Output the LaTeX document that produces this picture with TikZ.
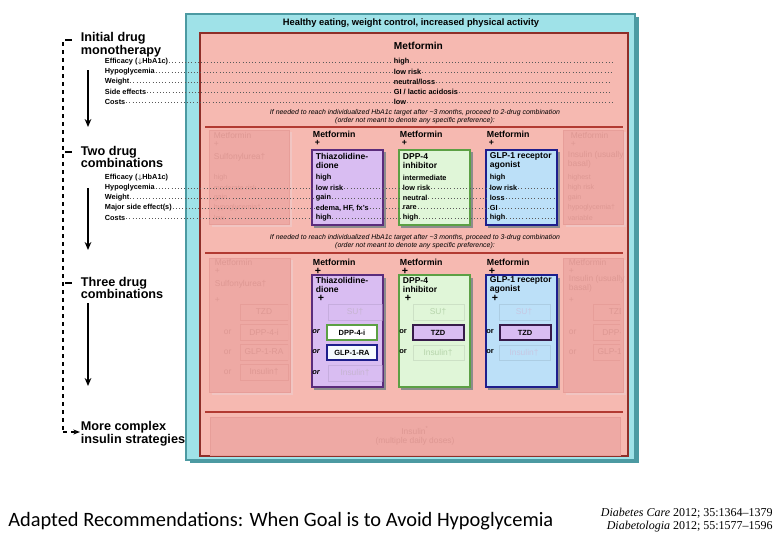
\documentclass[tikz,border=0pt]{standalone}
\usepackage{fontspec}
\setmainfont{Liberation Sans}
\newfontfamily\capfont{Carlito}
\newfontfamily\citefont{Liberation Serif}
\usetikzlibrary{arrows.meta}
\definecolor{teal1}{HTML}{9FE2E8}\definecolor{teal2}{HTML}{4C9AA2}
\definecolor{salm}{HTML}{F6B9B1}\definecolor{salmb}{HTML}{B23A32}
\definecolor{fadef}{HTML}{EEA9A4}\definecolor{fadeb}{HTML}{E79E99}\definecolor{fadet}{HTML}{DE9893}
\definecolor{purf}{HTML}{D9BDF2}\definecolor{purb}{HTML}{5B2C7C}
\definecolor{grnf}{HTML}{E0F6D8}\definecolor{grnb}{HTML}{5CA044}
\definecolor{bluf}{HTML}{BCE0F8}\definecolor{blub}{HTML}{1E1E8C}
\begin{document}
\begin{tikzpicture}[x=0.75pt,y=-0.75pt,
  lbl/.style={anchor=west,font=\fontsize{5.5}{6}\selectfont\bfseries,inner sep=0.5pt},
  val/.style={anchor=west,font=\fontsize{5.5}{6}\selectfont\bfseries,inner sep=0.5pt},
  fval/.style={anchor=west,font=\fontsize{5.3}{6}\selectfont,text=fadet,inner sep=0.5pt},
  hdr/.style={anchor=west,font=\fontsize{6.6}{7}\selectfont\bfseries,inner sep=0.5pt},
  fhdr/.style={anchor=west,font=\fontsize{6.3}{7}\selectfont,text=fadet,inner sep=0.5pt},
  big/.style={anchor=west,font=\fontsize{9.5}{9.5}\selectfont\bfseries,align=left,inner sep=0.5pt},
  ital/.style={font=\fontsize{5.2}{6}\selectfont\itshape,align=center,inner sep=0.5pt},
  leader/.style={dotted,line width=0.4pt,gray!70!black},
  arr/.style={-{Stealth[length=6pt,width=5pt]},line width=1.4pt},
  fbox/.style={fill=fadef,draw=fadeb,line width=0.6pt},
  small/.style={font=\fontsize{5.6}{6}\selectfont\bfseries,inner sep=0}]
\useasboundingbox (0,0) rectangle (780,540);
\fill[white] (0,0) rectangle (780,540);
% outer boxes
\fill[teal2] (190,17) rectangle (639,463);
\draw[teal2,fill=teal1,line width=0.8pt] (186,14) rectangle (635,460);
\draw[salmb!80!black,fill=salm,line width=0.8pt] (200,33) rectangle (628,456);
\node[font=\fontsize{7}{8}\selectfont\bfseries] (head) at (411,23) {Healthy eating, weight control, increased physical activity};
% metformin monotherapy
\node[hdr,font=\fontsize{7.6}{8}\selectfont\bfseries] (met) at (393,46) {Metformin};
\foreach \y/\t/\n in {62/high/a,72/low risk/b,82/{neutral/loss}/c,92/{GI / lactic acidosis}/d,102/low/e}{
  \node[val] (m\n) at (393,\y) {\t};
  \draw[leader] (m\n.east) -- (612,\y);}
\node[ital] (it1) at (415,117) {If needed to reach individualized HbA1c target after \textasciitilde3 months, proceed to 2-drug combination\\(order not meant to denote any specific preference):};
\draw[salmb,line width=1pt] (205,127) -- (623,127);
% two-drug faded left
\fill[fadeb!60] (212,132) rectangle (292,227);
\draw[fbox] (209,130) rectangle (289,224);
\node[fhdr] (f1a) at (213,135) {Metformin};
\node[fhdr] (f1b) at (213,144) {+};
\node[fhdr] (f1c) at (213,157) {Sulfonylurea\textdagger};
\foreach \y/\t/\n in {178/high/a,188/moderate risk/b,198/gain/c,208/hypoglycemia\textdagger/d,218/low/e}
  \node[fval] (f1\n v) at (213,\y) {\t};
% two-drug faded right
\fill[fadeb!60] (566,132) rectangle (626,227);
\draw[fbox] (563,130) rectangle (623,224);
\node[fhdr] (f2a) at (570,135) {Metformin};
\node[fhdr] (f2b) at (570,144) {+};
\node[fhdr,align=left] (f2c) at (567,160) {Insulin (usually\\basal)};
\foreach \y/\t/\n in {178/highest/a,188/high risk/b,198/gain/c,208/hypoglycemia\textdagger/d,218/variable/e}
  \node[fval] (f2\n v) at (567,\y) {\t};
% two-drug coloured columns
\foreach \x/\f/\b/\nm/\ti/\va/\vb/\vc/\vd/\ve in {
 312/purf/purb/tzd/{Thiazolidine-\\dione}/high/low risk/gain/{edema, HF, fx's}/high,
 399/grnf/grnb/dpp/{DPP-4\\inhibitor}/intermediate/low risk/neutral/rare/high,
 486/bluf/blub/glp/{GLP-1 receptor\\agonist}/high/low risk/loss/GI/high}{
  \node[hdr] (\nm h) at (\x,134) {Metformin};
  \node[hdr] (\nm p) at (\x+2,143) {+};
  \fill[black!45] (\x+2,152) rectangle (\x+74,228);
  \draw[\b,fill=\f,line width=1.3pt] (\x,150) rectangle (\x+71,225);
  \node[hdr,align=left,font=\fontsize{6.4}{6.8}\selectfont\bfseries] (\nm t) at (\x+3,161) {\ti};
  \node[val] (\nm 1) at (\x+3,178) {\va};
  \node[val] (\nm 2) at (\x+3,188) {\vb};
  \node[val] (\nm 3) at (\x+3,198) {\vc};
  \node[val] (\nm 4) at (\x+3,208) {\vd};
  \node[val] (\nm 5) at (\x+3,218) {\ve};
}
\foreach \i in {2,3,4,5}{
  \draw[leader] (tzd\i.east) -- (dpp\i.west);
  \draw[leader] (dpp\i.east) -- (glp\i.west);
  \draw[leader] (glp\i.east) -- (555,|-glp\i);}
\node[ital] (it2) at (415,242) {If needed to reach individualized HbA1c target after \textasciitilde3 months, proceed to 3-drug combination\\(order not meant to denote any specific preference):};
\draw[salmb,line width=1pt] (205,253) -- (623,253);
% three-drug faded left/right
\foreach \x/\w/\nm/\ti/\bo/\bw/\oo in {209/81/fl/{Sulfonylurea\textdagger}/31/48/14,563/60/fr/{Insulin (usually\\basal)}/30/27/5}{
  \fill[fadeb!60] (\x+3,260) rectangle (\x+\w+3,395);
  \draw[fbox] (\x,258) rectangle (\x+\w,392);
  \node[fhdr] (\nm a) at (\x+5,262) {Metformin};
  \node[fhdr] (\nm b) at (\x+5,271) {+};
  \node[fhdr,align=left] (\nm c) at (\x+5,284) {\ti};
  \node[fhdr] (\nm d) at (\x+5,300) {+};
  \foreach \y/\t/\k in {312/TZD/1,332/DPP-4-i/2,352/GLP-1-RA/3}{
    \begin{scope}
    \clip (\x+\bo,\y-8) rectangle (\x+\bo+\bw,\y+8);
    \draw[fbox] (\x+\bo,\y-8) rectangle (\x+\bo+\bw,\y+8);
    \node[fhdr,anchor=center] (\nm\k) at (\x+\bo+24,\y) {\t};
    \end{scope}}
  \foreach \y in {332,352} \node[fhdr] at (\x+\oo,\y) {or};
}
\draw[fbox] (240,364) rectangle (288,380);
\node[fhdr,anchor=center] (fl4) at (264,372) {Insulin\textdagger};
\node[fhdr] (flo) at (223,372) {or};
% three-drug coloured columns
\foreach \x/\f/\b/\nm/\ti in {312/purf/purb/A/{Thiazolidine-\\dione},399/grnf/grnb/B/{DPP-4\\inhibitor},486/bluf/blub/C/{GLP-1 receptor\\agonist}}{
  \node[hdr] (\nm h) at (\x,262) {Metformin};
  \node[hdr,font=\fontsize{8}{8}\selectfont\bfseries] (\nm p) at (\x+2,271) {+};
  \fill[black!45] (\x+2,278) rectangle (\x+74,390);
  \draw[\b,fill=\f,line width=1.3pt] (\x,275) rectangle (\x+71,387);
  \node[hdr,align=left,font=\fontsize{6.4}{6.8}\selectfont\bfseries] (\nm t) at (\x+3,285) {\ti};
  \node[hdr,font=\fontsize{8}{8}\selectfont\bfseries] (\nm q) at (\x+5,298) {+};
}
\tikzset{fin/.style={fill=#1,draw=#1!85!black,line width=0.6pt,opacity=0.55}}
% TZD column
\draw[fin=purf] (328,304) rectangle (382,320); \node[fhdr,anchor=center,text=purb!35] (A1) at (355,312) {SU\textdagger};
\draw[grnb,fill=white,line width=1.3pt] (327,325) rectangle (377,340); \node[small] (A2) at (352,332.5) {DPP-4-i};
\draw[blub,fill=white!85!bluf,line width=1.3pt] (327,345) rectangle (377,360); \node[small] (A3) at (352,352.5) {GLP-1-RA};
\draw[fin=purf] (328,365) rectangle (382,381); \node[fhdr,anchor=center,text=purb!35] (A4) at (355,373) {Insulin\textdagger};
\foreach \y in {332,352,373} \node[small,font=\fontsize{5.6}{6}\selectfont\bfseries\itshape] at (316,\y) {or};
% DPP column
\draw[fin=grnf] (413,304) rectangle (464,320); \node[fhdr,anchor=center,text=grnb!45] (B1) at (438,312) {SU\textdagger};
\draw[purb!60!black,fill=purf,line width=1.3pt] (413,325) rectangle (464,340); \node[small] (B2) at (438,332.5) {TZD};
\draw[fin=grnf] (413,345) rectangle (464,360); \node[fhdr,anchor=center,text=grnb!45] (B3) at (438,352.5) {Insulin\textdagger};
\foreach \y in {332,352} \node[small] at (403,\y) {or};
% GLP column
\draw[fin=bluf] (499,304) rectangle (550,320); \node[fhdr,anchor=center,text=blub!25] (C1) at (524,312) {SU\textdagger};
\draw[purb!60!black,fill=purf,line width=1.3pt] (500,325) rectangle (551,340); \node[small] (C2) at (525,332.5) {TZD};
\draw[fin=bluf] (499,345) rectangle (550,360); \node[fhdr,anchor=center,text=blub!25] (C3) at (524,352.5) {Insulin\textdagger};
\foreach \y in {332,352} \node[small] at (490,\y) {or};
% insulin strategies
\draw[salmb,line width=1.2pt] (205,412) -- (623,412);
\draw[fbox] (210,417) rectangle (620,455);
\node[fhdr,anchor=center,align=center] (ins) at (415,436) {Insulin\textsuperscript{*}\\(multiple daily doses)};
% left column
\draw[dashed,line width=1.2pt] (63,42) -- (63,432);
\node[big] (s1) at (80,45) {Initial drug\\monotherapy};
\node[big] (s2) at (80,157) {Two drug\\combinations};
\node[big] (s3) at (80,288) {Three drug\\combinations};
\node[big] (s4) at (80,434) {More complex\\insulin strategies};
\foreach \y in {45,157,288} \draw[line width=1.2pt] (65,\y-5) -- (72,\y-5);
\coordinate (d4) at (63,432);
\draw[dashed,-{Stealth[length=5pt]},line width=1pt] (d4) -- (s4.west|-d4);
\foreach \y/\t/\n in {62/{Efficacy (\(\downarrow\)HbA1c)}/a,72/Hypoglycemia/b,82/Weight/c,92/Side effects/d,102/Costs/e}{
  \node[lbl] (l1\n) at (104,\y) {\t};
  \draw[leader] (l1\n.east) -- (m\n.west);}
\foreach \y/\t/\n in {178/{Efficacy (\(\downarrow\)HbA1c)}/1,188/Hypoglycemia/2,198/Weight/3,208/Major side effect(s)/4,218/Costs/5}{
  \node[lbl] (l2\n) at (104,\y) {\t};
  \ifnum\n>1 \draw[leader] (l2\n.east) -- (tzd\n.west);\fi}
\coordinate (a1) at (88,70); \coordinate (a1e) at (88,127);
\coordinate (a2) at (88,188); \coordinate (a2e) at (88,250);
\coordinate (a3) at (88,303); \coordinate (a3e) at (88,386);
\draw[arr] (a1) -- (a1e); \draw[arr] (a2) -- (a2e); \draw[arr] (a3) -- (a3e);
% captions
\node[anchor=west,font=\capfont\fontsize{15.3}{16}\selectfont,inner sep=0] (cap) at (8,521) {Adapted Recommendations: When Goal is to Avoid Hypoglycemia};
\node[anchor=east,align=right,font=\citefont\fontsize{9}{10.3}\selectfont,inner sep=0] (cite) at (773,520) {\textit{Diabetes Care} 2012; 35:1364\textendash1379\\\textit{Diabetologia} 2012; 55:1577\textendash1596};
\end{tikzpicture}
\end{document}
